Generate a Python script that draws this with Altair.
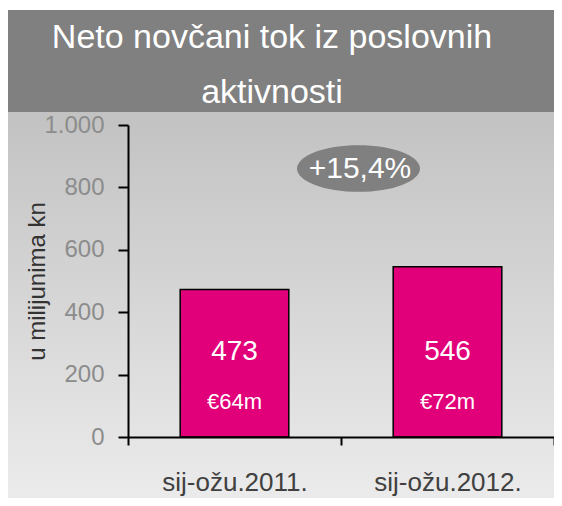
import altair as alt
import pandas as pd

# ---- data ----
categories = ["sij-ožu.2011.", "sij-ožu.2012."]
values_kn = [473, 546]
values_eur = ["€64m", "€72m"]
change_label = "+15,4%"
title_lines = ["Neto novčani tok iz poslovnih", "aktivnosti"]
y_title = "u milijunima kn"
y_ticks = [0, 200, 400, 600, 800, 1000]

df = pd.DataFrame({
    "cat": categories,
    "kn": values_kn,
    "kn_label": [str(v) for v in values_kn],
    "eur": values_eur,
})

FONT = "Liberation Sans"
W, H = 426, 312
PL, PT, PR, PB = 120, 117, 0, 61
CW, CH = PL + W + PR, PT + H + PB

one = alt.Data(values=[{}])

# background gradient area
bg = alt.Chart(one).mark_rect(
    color=alt.Gradient(
        gradient="linear",
        stops=[alt.GradientStop(color="#c2c2c2", offset=0),
               alt.GradientStop(color="#ebebeb", offset=1)],
        x1=0, x2=0, y1=0, y2=1,
    )
).encode(
    x=alt.value(-PL), x2=alt.value(CW - PL),
    y=alt.value(-13), y2=alt.value(CH - PT),
)

# title band
band = alt.Chart(one).mark_rect(color="#808080").encode(
    x=alt.value(-PL), x2=alt.value(CW - PL),
    y=alt.value(-115), y2=alt.value(-13),
)

title_df = pd.DataFrame({"t": title_lines, "yy": [-77, -22]})
title = alt.Chart(title_df).mark_text(
    font=FONT, fontSize=34, color="white", align="center", baseline="alphabetic"
).encode(
    x=alt.value(144),
    y=alt.Y("yy:Q", scale=None),
    text="t:N",
)

x_enc = alt.X(
    "cat:N", sort=categories,
    scale=alt.Scale(paddingInner=0, paddingOuter=0),
    axis=alt.Axis(
        title=None, labelAngle=0, tickBand="extent", zindex=1,
        domainColor="black", domainWidth=2, tickColor="black", tickWidth=2,
        tickSize=8, labelPadding=24, labelFont=FONT, labelFontSize=26,
        labelColor="#404040",
    ),
)

y_enc = alt.Y(
    "kn:Q",
    scale=alt.Scale(domain=[0, 1000], nice=False),
    axis=alt.Axis(
        values=y_ticks, format=",d", labelExpr="replace(datum.label, ',', '.')",
        title=y_title, titleFont=FONT, titleFontSize=24, titleFontWeight="normal",
        titleColor="#333333", titleAngle=270, titleX=-91, titleY=156,
        titleAlign="center", titleBaseline="middle",
        grid=False, zindex=1,
        domainColor="black", domainWidth=2, tickColor="black", tickWidth=2,
        tickSize=10, labelPadding=14, labelFont=FONT, labelFontSize=24,
        labelColor="#8c8c8c",
    ),
)

bars = alt.Chart(df).mark_bar(
    color="#e2007a", stroke="black", strokeWidth=1.5,
    width=alt.RelativeBandSize(0.51),
).encode(x=x_enc, y=y_enc)

lbl_kn = alt.Chart(df).mark_text(
    font=FONT, fontSize=28, color="white", baseline="middle"
).encode(
    x=alt.X("cat:N", sort=categories),
    y=alt.value(227),
    text="kn_label:N",
)

lbl_eur = alt.Chart(df).mark_text(
    font=FONT, fontSize=22, color="white", baseline="middle"
).encode(
    x=alt.X("cat:N", sort=categories),
    y=alt.value(277),
    text="eur:N",
)

ellipse_path = "M-1,0 A1,0.38 0 1,1 1,0 A1,0.38 0 1,1 -1,0 Z"
ell = alt.Chart(one).mark_point(
    shape=ellipse_path, size=123 * 123, filled=True, color="#808080",
    opacity=1, strokeWidth=0,
).encode(x=alt.value(230.5), y=alt.value(43.5))

pct = alt.Chart(alt.Data(values=[{"t": change_label}])).mark_text(
    font=FONT, fontSize=30, color="white", baseline="middle", align="center"
).encode(x=alt.value(232), y=alt.value(43.5), text="t:N")

chart = alt.layer(bg, band, title, bars, lbl_kn, lbl_eur, ell, pct).properties(
    width=W, height=H,
    padding={"left": PL, "top": PT, "right": PR, "bottom": PB},
    autosize=alt.AutoSizeParams(type="none"),
).configure_view(stroke=None)

chart.save("out.html", embed_options={"renderer": "svg", "actions": False})
